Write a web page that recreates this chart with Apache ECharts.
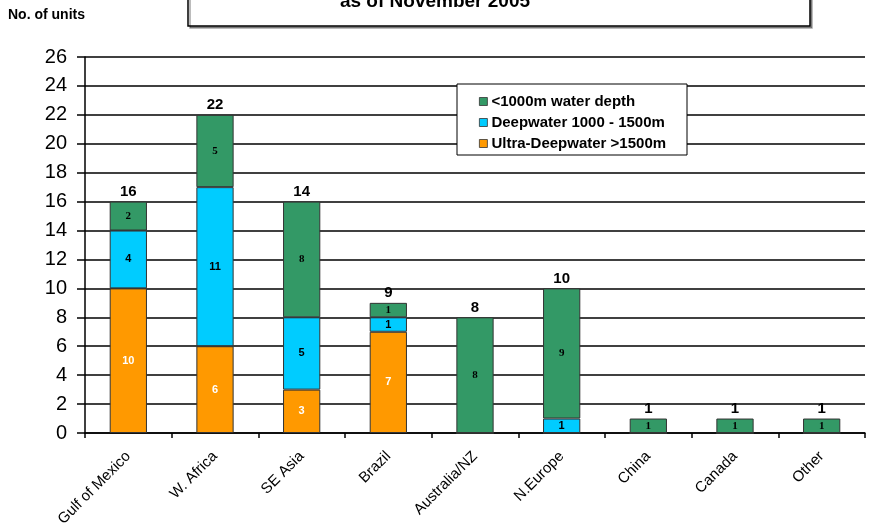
<!DOCTYPE html>
<html>
<head>
<meta charset="utf-8">
<script src="https://cdn.jsdelivr.net/npm/echarts@6/dist/echarts.min.js"></script>
<style>
  html, body { margin: 0; padding: 0; background: #fff; }
  #chart { width: 870px; height: 525px; }
</style>
</head>
<body>
<div id="chart"></div>
<script>
// Regions of the rig fleet
const regions = ['Gulf of Mexico', 'W. Africa', 'SE Asia', 'Brazil', 'Australia/NZ', 'N.Europe', 'China', 'Canada', 'Other'];
// Units by water depth class
const shallowUnits = [2, 5, 8, 1, 8, 9, 1, 1, 1];       // <1000m water depth
const deepUnits = [4, 11, 5, 1, 0, 1, 0, 0, 0];         // Deepwater 1000 - 1500m
const ultraDeepUnits = [10, 6, 3, 7, 0, 0, 0, 0, 0];    // Ultra-Deepwater >1500m
// Total shown above each column
const totalLabels = [16, 22, 14, 9, 8, 10, 1, 1, 1];
// Y axis ticks
const yMin = 0, yMax = 26, yStep = 2;

const chart = echarts.init(document.getElementById('chart'));

const hideZero = p => (p.value ? String(p.value) : '');
const barBorder = { borderColor: '#333', borderWidth: 1 };
const sans = 'Liberation Sans, Arial, sans-serif';

chart.setOption({
  animation: false,
  backgroundColor: '#fff',
  grid: { left: 85, right: 5, top: 57, bottom: 92, containLabel: false, outerBoundsMode: 'none' },
  legend: {
    orient: 'vertical',
    left: 474, top: 89,
    itemWidth: 8, itemHeight: 8, itemGap: 6,
    icon: 'rect',
    itemStyle: { borderColor: '#333', borderWidth: 0.8 },
    textStyle: { fontFamily: sans, fontWeight: 'bold', fontSize: 15, color: '#000', padding: [0, 0, 0, -1] },
    data: ['<1000m water depth', 'Deepwater 1000 - 1500m', 'Ultra-Deepwater >1500m']
  },
  graphic: [
    // title box, partly outside the top edge
    { type: 'rect', z: 1, shape: { x: 188, y: -40, width: 622, height: 66 },
      style: { fill: '#fff', stroke: '#000', lineWidth: 1.5, shadowColor: 'rgba(0,0,0,0.35)', shadowOffsetX: 2, shadowOffsetY: 2 } },
    { type: 'text', z: 2, left: 'center', top: -8,
      style: { text: 'as of November 2005', fontFamily: sans, fontWeight: 'bold', fontSize: 19, fill: '#000' } },
    { type: 'text', z: 2, left: 8, top: 8,
      style: { text: 'No. of units', fontFamily: 'Liberation Sans Narrow, Liberation Sans, Arial, sans-serif', fontWeight: 'bold', fontSize: 14, fill: '#000' } },
    // legend frame
    { type: 'rect', z: 3, shape: { x: 457, y: 84, width: 230, height: 71 },
      style: { fill: '#fff', stroke: '#000', lineWidth: 1 } }
  ],
  xAxis: {
    type: 'category',
    data: regions,
    axisLine: { lineStyle: { color: '#000', width: 1.5 } },
    axisTick: { show: true, alignWithLabel: false, length: 5, lineStyle: { color: '#000', width: 1.5 } },
    axisLabel: {
      rotate: 45, margin: 21, interval: 0,
      fontFamily: sans, fontSize: 15, color: '#000'
    }
  },
  yAxis: {
    type: 'value',
    min: yMin, max: yMax, interval: yStep,
    axisLine: { show: true, lineStyle: { color: '#000', width: 1.5 } },
    axisTick: { show: true, length: 8, lineStyle: { color: '#000', width: 1.5 } },
    axisLabel: { fontFamily: sans, fontSize: 20, color: '#000', margin: 18 },
    splitLine: { lineStyle: { color: '#000', width: 1.5 } }
  },
  series: [
    {
      name: 'Ultra-Deepwater >1500m', type: 'bar', stack: 'units', barWidth: '43%',
      data: ultraDeepUnits,
      itemStyle: Object.assign({ color: '#FF9900' }, barBorder),
      label: { show: true, position: 'inside', formatter: hideZero, color: '#fff', fontWeight: 'bold', fontSize: 11, fontFamily: sans }
    },
    {
      name: 'Deepwater 1000 - 1500m', type: 'bar', stack: 'units',
      data: deepUnits,
      itemStyle: Object.assign({ color: '#00CCFF' }, barBorder),
      label: { show: true, position: 'inside', formatter: hideZero, color: '#000', fontWeight: 'bold', fontSize: 11, fontFamily: sans }
    },
    {
      name: '<1000m water depth', type: 'bar', stack: 'units',
      data: shallowUnits,
      itemStyle: Object.assign({ color: '#339966' }, barBorder),
      label: { show: true, position: 'inside', formatter: hideZero, color: '#000', fontWeight: 'bold', fontSize: 11, fontFamily: 'Liberation Serif, Times New Roman, serif' }
    },
    {
      // zero-height cap carrying the column totals
      name: 'total', type: 'bar', stack: 'units',
      data: totalLabels.map(() => 0),
      itemStyle: { color: 'transparent' },
      label: {
        show: true, position: 'top', distance: 2,
        formatter: p => String(totalLabels[p.dataIndex]),
        color: '#000', fontWeight: 'bold', fontSize: 15, fontFamily: sans
      }
    }
  ]
});
</script>
</body>
</html>
